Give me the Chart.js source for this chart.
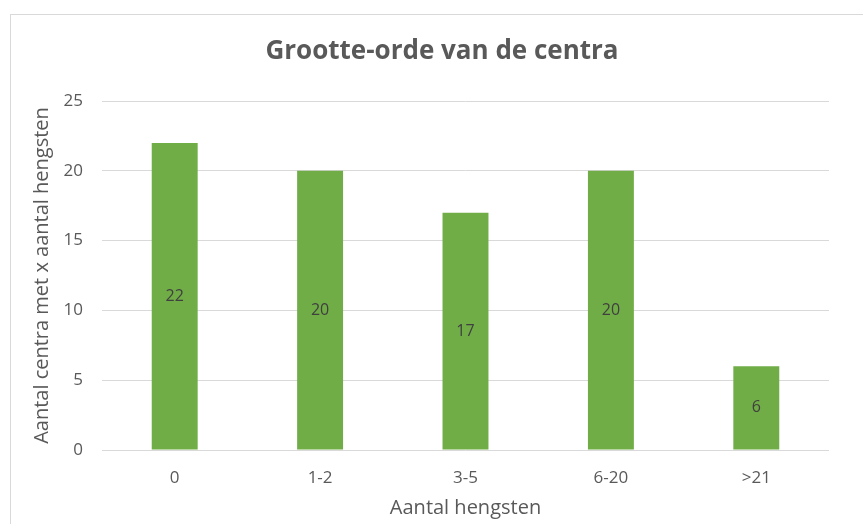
<!DOCTYPE html>
<html>
<head>
<meta charset="utf-8">
<script src="https://cdn.jsdelivr.net/npm/chart.js"></script>
<style>
  html, body { margin: 0; padding: 0; background: #fff; }
  #wrap { position: relative; width: 863px; height: 524px; overflow: hidden; }
  #frame { position: absolute; left: 10px; top: 14px; width: 900px; height: 600px; border: 1px solid #d9d9d9; box-sizing: border-box; }
  canvas { position: absolute; left: 0; top: 0; }
</style>
</head>
<body>
<div id="wrap">
  <div id="frame"></div>
  <canvas id="chart" width="863" height="524"></canvas>
</div>
<script>
// Grootte-orde van de centra - bar chart

const categories = ["0", "1-2", "3-5", "6-20", ">21"];
const centraCounts = [22, 20, 17, 20, 6];
const yTicks = [0, 5, 10, 15, 20, 25];
const chartTitle = "Grootte-orde van de centra";

const FONT = "'Open Sans', 'Liberation Sans', sans-serif";
const TEXT = "#595959";

// draws the value in the middle of each bar, plus the title centred on the frame
const barLabels = {
  id: "barLabels",
  afterDatasetsDraw(chart) {
    const ctx = chart.ctx;
    const meta = chart.getDatasetMeta(0);
    ctx.save();
    ctx.font = "16px " + FONT;
    ctx.fillStyle = "#404040";
    ctx.textAlign = "center";
    ctx.textBaseline = "middle";
    meta.data.forEach((bar, i) => {
      const mid = (bar.y + bar.base) / 2;
      ctx.fillText(String(centraCounts[i]), bar.x, mid);
    });
    ctx.font = "bold 26px " + FONT;
    ctx.fillStyle = TEXT;
    ctx.fillText(chartTitle, 442, 52);
    ctx.restore();
  }
};

new Chart(document.getElementById("chart").getContext("2d"), {
  type: "bar",
  data: {
    labels: categories,
    datasets: [{
      data: centraCounts,
      backgroundColor: "#70ad47",
      categoryPercentage: 1,
      barPercentage: 0.316
    }]
  },
  options: {
    responsive: false,
    animation: false,
    layout: { padding: { top: 101, right: 34, bottom: 0, left: 10 } },
    plugins: {
      legend: { display: false },
      tooltip: { enabled: false },
      title: { display: false }
    },
    scales: {
      x: {
        afterFit(axis) { axis.height = 74; },
        grid: { display: false, drawTicks: false },
        border: { display: false },
        ticks: { color: TEXT, font: { family: FONT, size: 17 }, padding: 18 },
        title: {
          display: true,
          text: "Aantal hengsten",
          color: TEXT,
          font: { family: FONT, size: 20 },
          padding: { top: 0, bottom: 4 }
        }
      },
      y: {
        min: 0,
        max: 25,
        afterFit(axis) { axis.width = 92; },
        afterBuildTicks(axis) { axis.ticks = yTicks.map(v => ({ value: v })); },
        grid: { color: "#d9d9d9", drawTicks: false },
        border: { display: false },
        ticks: { color: TEXT, font: { family: FONT, size: 17 }, padding: 19 },
        title: {
          display: true,
          text: "Aantal centra met x aantal hengsten",
          color: TEXT,
          font: { family: FONT, size: 20 },
          padding: { top: 20, bottom: 0 }
        }
      }
    }
  },
  plugins: [barLabels]
});
</script>
</body>
</html>
